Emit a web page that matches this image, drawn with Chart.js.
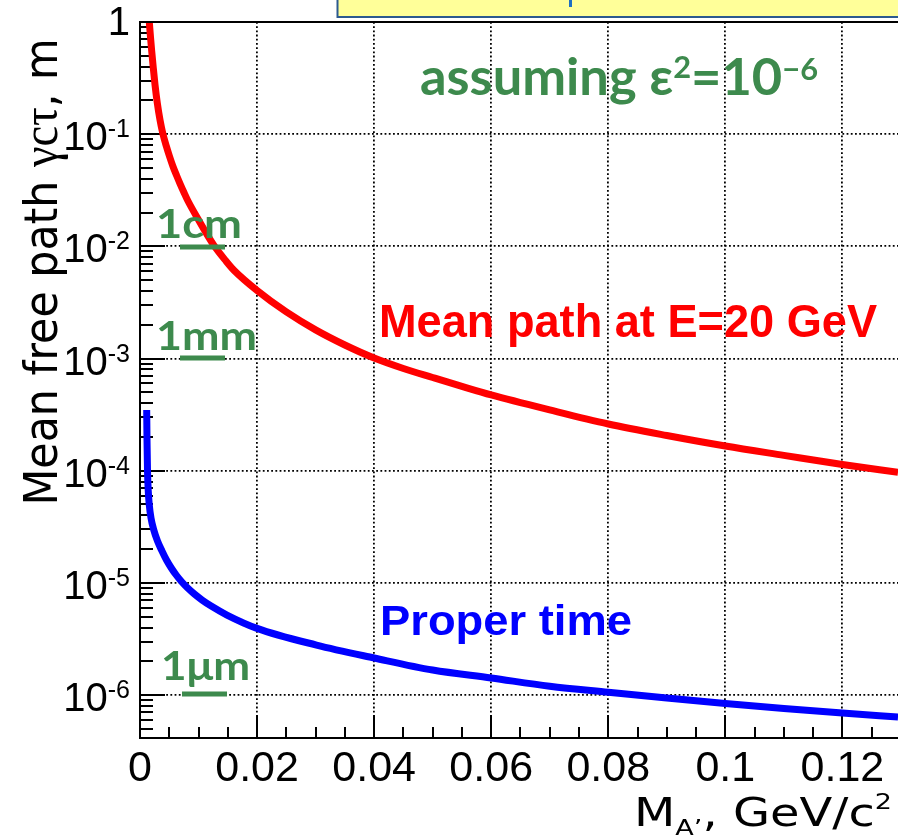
<!DOCTYPE html>
<html>
<head>
<meta charset="utf-8">
<script src="https://cdn.jsdelivr.net/npm/chart.js@4.4.0/dist/chart.umd.min.js"></script>
<style>
  html, body { margin: 0; padding: 0; background: #fff; }
  #chart { display: block; }
</style>
</head>
<body>
<canvas id="chart" width="898" height="837"></canvas>
<script>
// A' mass (GeV/c^2) and mean decay path (m) at E = 20 GeV, eps^2 = 1e-6
var massRed = [0.001588, 0.001793, 0.001998, 0.002272, 0.002562, 0.002955, 0.003416, 0.003877, 0.004492, 0.005021,
  0.005636, 0.006251, 0.006832, 0.007515, 0.008198, 0.01006, 0.0111, 0.01264, 0.01469, 0.01609,
  0.0200, 0.0250, 0.0300, 0.0350, 0.0400, 0.0450, 0.0500, 0.0550, 0.0600, 0.0700,
  0.0800, 0.0900, 0.1000, 0.1100, 0.1200, 0.1295];
var pathRed = [1.0, 0.735, 0.551, 0.389, 0.277, 0.1896, 0.1338, 0.1024, 0.0784, 0.0639,
  0.0515, 0.0428, 0.0363, 0.0302, 0.02535, 0.0170, 0.0137, 0.01017, 0.0074, 0.00609,
  0.00404, 0.0026, 0.0018, 0.00132, 0.00101, 0.000815, 0.000677, 0.000564, 0.000473, 0.000348,
  0.000261, 0.000206, 0.000166, 0.000137, 0.0001135, 0.0000968];

// proper decay length c*tau (m)
var massBlue = [0.001144, 0.001196, 0.001281, 0.001401, 0.001588, 0.001879, 0.002357, 0.002989, 0.003757, 0.004526,
  0.005346, 0.006183, 0.007156, 0.008147, 0.009291, 0.01062, 0.01216, 0.01486, 0.0200, 0.03015,
  0.0400, 0.0500, 0.0600, 0.0700, 0.0800, 0.0900, 0.1000, 0.1100, 0.1200, 0.1295];
var timeBlue = [3.48e-4, 1.877e-4, 1.014e-4, 6.73e-5, 4.94e-5, 3.785e-5, 2.96e-5, 2.36e-5, 1.923e-5, 1.598e-5,
  1.357e-5, 1.175e-5, 1.018e-5, 8.99e-6, 7.95e-6, 7.03e-6, 6.22e-6, 5.17e-6, 3.93e-6, 2.79e-6,
  2.14e-6, 1.67e-6, 1.42e-6, 1.20e-6, 1.06e-6, 9.4e-7, 8.4e-7, 7.58e-7, 6.91e-7, 6.37e-7];

var xMajor = [0, 0.02, 0.04, 0.06, 0.08, 0.1, 0.12];
var xLabels = ['0', '0.02', '0.04', '0.06', '0.08', '0.1', '0.12'];
var xMinorStep = 0.005;
var yExponents = [0, -1, -2, -3, -4, -5, -6, -7];

var X_MIN = 0, X_MAX = 0.1295;
var Y_MIN = 4.14e-7, Y_MAX = 1;

var SANS = '"Liberation Sans", Arial, Helvetica, sans-serif';
var TITLE = '"DejaVu Sans", Verdana, sans-serif';
var GREEN_FONT = 'Lato, "Noto Sans", sans-serif';
var GREEN = '#3d8a4d';

function toPoints(xs, ys) {
  return xs.map(function(x, i) { return { x: x, y: ys[i] }; });
}

// x ticks: every 5 MeV, labelled every 20 MeV
var xTickList = [];
for (var i = 0; i * xMinorStep <= X_MAX + 1e-9; i++) {
  var v = +(i * xMinorStep).toFixed(4);
  var idx = xMajor.findIndex(function(m) { return Math.abs(m - v) < 1e-9; });
  xTickList.push({ value: v, major: idx >= 0, label: idx >= 0 ? xLabels[idx] : '' });
}

// y ticks: 1..9 x 10^n inside the range
var yTickList = [];
yExponents.forEach(function(e) {
  for (var k = 1; k <= 9; k++) {
    var val = k * Math.pow(10, e);
    if (val < Y_MIN * 0.999 || val > Y_MAX * 1.001) continue;
    yTickList.push({ value: val, major: k === 1, exp: e });
  }
});

function drawRuns(ctx, runs, x, y, width, align) {
  var total = 0;
  runs.forEach(function(r) { ctx.font = r.font; r.w = ctx.measureText(r.text).width; total += r.w; });
  var sx = width ? width / total : 1;
  ctx.save();
  ctx.translate(x, y);
  ctx.scale(sx, 1);
  ctx.textAlign = 'left';
  ctx.textBaseline = 'alphabetic';
  var cx = align === 'right' ? -total : (align === 'center' ? -total / 2 : 0);
  runs.forEach(function(r) {
    ctx.font = r.font;
    ctx.fillStyle = r.color || '#000';
    ctx.fillText(r.text, cx, r.dy || 0);
    cx += r.w;
  });
  ctx.restore();
}

var decorations = {
  id: 'decorations',
  beforeDatasetsDraw: function(chart) {
    var ctx = chart.ctx, a = chart.chartArea;
    var xs = chart.scales.x, ys = chart.scales.y;
    ctx.save();
    ctx.strokeStyle = '#000';
    ctx.lineWidth = 2;
    ctx.beginPath();
    xTickList.forEach(function(t) {
      if (t.value <= 0) return;
      var px = Math.round(xs.getPixelForValue(t.value));
      ctx.moveTo(px, a.bottom);
      ctx.lineTo(px, a.bottom - (t.major ? 23 : 11));
    });
    yTickList.forEach(function(t) {
      var py = Math.round(ys.getPixelForValue(t.value));
      ctx.moveTo(a.left, py);
      ctx.lineTo(a.left + (t.major ? 25 : 13), py);
    });
    ctx.stroke();
    ctx.restore();
  },
  afterDraw: function(chart) {
    var ctx = chart.ctx, a = chart.chartArea;
    var ys = chart.scales.y;
    ctx.save();

    // frame top
    ctx.strokeStyle = '#000';
    ctx.lineWidth = 2;
    ctx.beginPath();
    ctx.moveTo(a.left - 1, a.top);
    ctx.lineTo(a.right, a.top);
    ctx.stroke();

    // cropped title box
    ctx.fillStyle = '#ffff99';
    ctx.fillRect(337, -4, 600, 21);
    ctx.strokeStyle = '#2c5a8f';
    ctx.lineWidth = 2;
    ctx.strokeRect(337.5, -4, 600, 21);
    ctx.fillStyle = '#1f6fc2';
    ctx.fillRect(569, 0, 3, 7);

    // y tick labels 10^n
    yTickList.forEach(function(t) {
      if (!t.major) return;
      var py = ys.getPixelForValue(t.value);
      if (t.exp === 0) {
        drawRuns(ctx, [{ text: '1', font: '40px ' + SANS }], 130, py + 13, null, 'right');
      } else {
        drawRuns(ctx, [
          { text: '10', font: '40px ' + SANS },
          { text: String(t.exp), font: '25px ' + SANS, dy: -13 }
        ], 130, py + 16, null, 'right');
      }
    });

    // axis titles
    ctx.save();
    ctx.translate(57, 272);
    ctx.rotate(-Math.PI / 2);
    drawRuns(ctx, [
      { text: 'Mean free path ', font: '46px ' + TITLE },
      { text: '\u03B3c\u03C4', font: '50px "Liberation Serif", "Times New Roman", serif' },
      { text: ', m', font: '46px ' + TITLE }
    ], 0, 0, 467, 'center');
    ctx.restore();

    drawRuns(ctx, [
      { text: 'M', font: '39px ' + TITLE },
      { text: 'A\u2019', font: '22px ' + TITLE, dy: 9 },
      { text: ', GeV/c', font: '39px ' + TITLE },
      { text: '2', font: '22px ' + TITLE, dy: -17 }
    ], 634, 826, 258, 'left');

    // annotations
    drawRuns(ctx, [
      { text: 'assuming ', font: 'bold 51px ' + GREEN_FONT, color: GREEN },
      { text: '\u03B5', font: 'bold 51px ' + GREEN_FONT, color: GREEN },
      { text: '2', font: 'bold 30px ' + GREEN_FONT, color: GREEN, dy: -17 },
      { text: '=10', font: 'bold 51px ' + GREEN_FONT, color: GREEN },
      { text: '\u22126', font: 'bold 30px ' + GREEN_FONT, color: GREEN, dy: -15 }
    ], 420, 95, 398, 'left');

    drawRuns(ctx, [{ text: 'Mean path at E=20 GeV', font: 'bold 47px ' + SANS, color: '#ff0000' }], 379, 337, 498, 'left');
    drawRuns(ctx, [{ text: 'Proper time', font: 'bold 42px ' + SANS, color: '#0000ff' }], 380, 635, 252, 'left');

    var marks = [
      { text: '1cm', x: 156, y: 238, w: 86, ul: 180, uy: 247 },
      { text: '1mm', x: 156, y: 350, w: 101, ul: 180, uy: 358 },
      { text: '1\u03BCm', x: 161, y: 680, w: 89, ul: 182, uy: 694 }
    ];
    marks.forEach(function(m) {
      drawRuns(ctx, [{ text: m.text, font: 'bold 40px ' + GREEN_FONT, color: GREEN }], m.x, m.y, m.w, 'left');
      ctx.fillStyle = GREEN;
      ctx.fillRect(m.ul, m.uy - 2.5, 45, 5);
    });

    ctx.restore();
  }
};

var ctx = document.getElementById('chart').getContext('2d');
var chart = new Chart(ctx, {
  type: 'line',
  data: {
    datasets: [{
      label: 'Mean path at E=20 GeV',
      data: toPoints(massRed, pathRed),
      borderColor: '#ff0000',
      borderWidth: 7,
      pointRadius: 0,
      cubicInterpolationMode: 'monotone',
      fill: false,
      clip: 0
    }, {
      label: 'Proper time',
      data: toPoints(massBlue, timeBlue),
      borderColor: '#0000ff',
      borderWidth: 7,
      pointRadius: 0,
      cubicInterpolationMode: 'monotone',
      fill: false,
      clip: 0
    }]
  },
  options: {
    responsive: false,
    animation: false,
    devicePixelRatio: 1,
    layout: { padding: { top: 22, right: 0, left: 0, bottom: 0 } },
    plugins: { legend: { display: false }, tooltip: { enabled: false } },
    scales: {
      x: {
        type: 'linear',
        min: X_MIN,
        max: X_MAX,
        afterBuildTicks: function(scale) {
          scale.ticks = xTickList.map(function(t) { return { value: t.value, major: t.major, lbl: t.label }; });
        },
        afterFit: function(scale) { scale.height = 99; },
        ticks: {
          autoSkip: false,
          maxRotation: 0,
          minRotation: 0,
          padding: 5,
          color: '#000',
          font: { family: SANS, size: 43 },
          callback: function(value, index, ticks) { return ticks[index].lbl; }
        },
        grid: {
          drawTicks: false,
          lineWidth: 1.8,
          color: function(c) {
            return c.tick && c.tick.major && c.tick.value > 0 ? '#000' : 'rgba(0,0,0,0)';
          }
        },
        border: { display: true, color: '#000', width: 2, dash: [1.8, 2.4] }
      },
      y: {
        type: 'logarithmic',
        min: Y_MIN,
        max: Y_MAX,
        afterBuildTicks: function(scale) {
          scale.ticks = yTickList.map(function(t) { return { value: t.value, major: t.major }; });
        },
        afterFit: function(scale) { scale.width = 140; },
        ticks: { display: false },
        grid: {
          drawTicks: false,
          lineWidth: 1.8,
          color: function(c) {
            return c.tick && c.tick.major && c.tick.value < 0.5 ? '#000' : 'rgba(0,0,0,0)';
          }
        },
        border: { display: true, color: '#000', width: 2, dash: [1.8, 2.4] }
      }
    }
  },
  plugins: [decorations]
});
</script>
</body>
</html>
